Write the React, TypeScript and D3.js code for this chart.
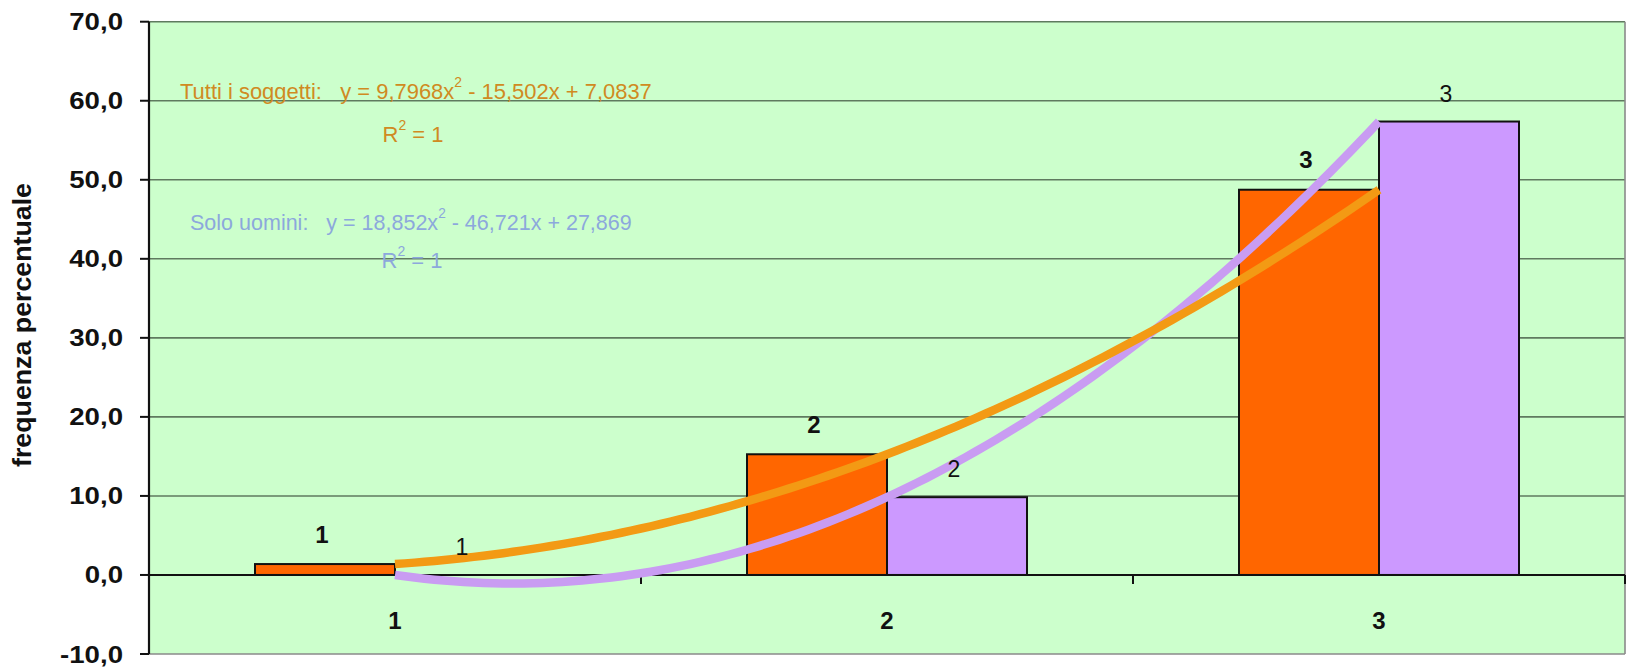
import React, { useEffect, useRef } from "react";
import * as d3 from "d3";

// categories on the x axis
const categories = ["1", "2", "3"];
// "Tutti i soggetti" (orange) and "Solo uomini" (purple) percentages
const tuttiValues = [1.38, 15.27, 48.74];
const uominiValues = [0.0, 9.84, 57.37];
const yTicks = [-10, 0, 10, 20, 30, 40, 50, 60, 70];
const yTitle = "frequenza percentuale";
const tuttiEq = { pre: "Tutti i soggetti:   y = 9,7968x", sup: "2", post: " - 15,502x + 7,0837" };
const uominiEq = { pre: "Solo uomini:   y = 18,852x", sup: "2", post: " - 46,721x + 27,869" };

const W = 1629;
const H = 671;

// quadratic through the three points (same as the Excel polynomial trendline)
const lagrange = (xs: number[], ys: number[]) => (x: number) =>
  ys.reduce((s, yi, i) => {
    let t = yi;
    xs.forEach((xj, j) => {
      if (j !== i) t *= (x - xj) / (xs[i] - xj);
    });
    return s + t;
  }, 0);

const App = () => {
  const ref = useRef<SVGSVGElement>(null);

  useEffect(() => {
    const left = 149, right = 1625, top = 21.7, bottom = 654;
    const svg = d3.select(ref.current);
    svg.selectAll("*").remove();

    const y = d3.scaleLinear().domain([-10, 70]).range([bottom, top]);
    const x = d3.scaleBand().domain(categories).range([left, right]).padding(0);
    const barW = 140;
    const x1 = d3.scaleBand().domain(["tutti", "uomini"]).range([-barW, barW]);
    const cx = (c: string) => (x(c) as number) + x.bandwidth() / 2;

    const font = "'Liberation Sans', Arial, sans-serif";

    // plot area
    svg.append("rect").attr("x", left).attr("y", top).attr("width", right - left)
      .attr("height", bottom - top).attr("fill", "#CCFFCC");

    // gridlines
    svg.append("g").selectAll("line").data(yTicks).join("line")
      .attr("x1", left).attr("x2", right)
      .attr("y1", (d) => y(d)).attr("y2", (d) => y(d))
      .attr("stroke", (d) => (d === -10 ? "#8a8a8a" : "#5f7a5f"))
      .attr("stroke-width", 1.6);
    // right border
    svg.append("line").attr("x1", right).attr("x2", right).attr("y1", top).attr("y2", bottom)
      .attr("stroke", "#8a8a8a").attr("stroke-width", 1.6);

    // y ticks + labels
    const yt = svg.append("g");
    yt.selectAll("line").data(yTicks).join("line")
      .attr("x1", left - 9).attr("x2", left)
      .attr("y1", (d) => y(d)).attr("y2", (d) => y(d))
      .attr("stroke", "#111").attr("stroke-width", 2);
    yt.selectAll("g").data(yTicks).join("g")
      .attr("transform", (d) => `translate(123,${y(d) + 8.5}) scale(1.15,1)`)
      .append("text")
      .attr("text-anchor", "end")
      .attr("font-family", font).attr("font-weight", "bold").attr("font-size", 24)
      .attr("fill", "#111")
      .text((d) => d3.format(".1f")(d).replace(".", ",").replace("\u2212", "-"));

    // y title
    svg.append("text")
      .attr("transform", `translate(31,325) rotate(-90) scale(1,1.15)`)
      .attr("text-anchor", "middle")
      .attr("font-family", font).attr("font-weight", "bold").attr("font-size", 22)
      .attr("textLength", 284).attr("lengthAdjust", "spacingAndGlyphs")
      .attr("fill", "#111")
      .text(yTitle);

    // bars
    const series = [
      { key: "tutti", values: tuttiValues, fill: "#FF6600", bold: true },
      { key: "uomini", values: uominiValues, fill: "#CC99FF", bold: false },
    ];
    series.forEach((s) => {
      const g = svg.append("g");
      g.selectAll("rect").data(categories).join("rect")
        .attr("x", (c) => cx(c) + (x1(s.key) as number))
        .attr("y", (c, i) => y(Math.max(0, s.values[i])))
        .attr("width", x1.bandwidth())
        .attr("height", (c, i) => Math.abs(y(s.values[i]) - y(0)))
        .attr("fill", s.fill).attr("stroke", "#111").attr("stroke-width", 2);
    });

    // zero axis line and category ticks
    svg.append("line").attr("x1", left).attr("x2", right).attr("y1", y(0)).attr("y2", y(0))
      .attr("stroke", "#111").attr("stroke-width", 2);
    const bounds = [...categories.map((c) => x(c) as number), right];
    svg.append("g").selectAll("line").data(bounds).join("line")
      .attr("x1", (d) => d).attr("x2", (d) => d)
      .attr("y1", y(0)).attr("y2", y(0) + 9)
      .attr("stroke", "#111").attr("stroke-width", 2);
    svg.append("line").attr("x1", left).attr("x2", left).attr("y1", top).attr("y2", bottom)
      .attr("stroke", "#111").attr("stroke-width", 2.2);

    // category labels
    svg.append("g").selectAll("text").data(categories).join("text")
      .attr("x", (c) => cx(c)).attr("y", 629)
      .attr("text-anchor", "middle")
      .attr("font-family", font).attr("font-weight", "bold").attr("font-size", 24)
      .attr("fill", "#111").text((c) => c);

    // trendlines
    const xs = categories.map((c, i) => i + 1);
    const px = d3.scaleLinear().domain([1, 3]).range([cx(categories[0]), cx(categories[2])]);
    const samples = d3.range(0, 101).map((i) => 1 + (i / 100) * 2);
    const line = d3.line<[number, number]>().x((d) => px(d[0])).y((d) => y(d[1]));
    const fitU = lagrange(xs, uominiValues);
    const fitT = lagrange(xs, tuttiValues);
    svg.append("path").attr("d", line(samples.map((v) => [v, fitU(v)])))
      .attr("fill", "none").attr("stroke", "#C99CF2").attr("stroke-width", 8.5);
    svg.append("path").attr("d", line(samples.map((v) => [v, fitT(v)])))
      .attr("fill", "none").attr("stroke", "#F39A14").attr("stroke-width", 8.5);

    // bar labels
    series.forEach((s) => {
      svg.append("g").selectAll("text").data(categories).join("text")
        .attr("x", (c) => cx(c) + (x1(s.key) as number) + x1.bandwidth() / 2 - 3)
        .attr("y", (c, i) => y(Math.max(0, s.values[i])) - (s.bold ? 21.5 : 20))
        .attr("text-anchor", "middle")
        .attr("font-family", font).attr("font-weight", s.bold ? "bold" : "normal")
        .attr("font-size", s.bold ? 24 : 23)
        .attr("fill", "#111").text((c) => c);
    });

    // trendline equations
    const eq = (e: { pre: string; sup: string; post: string }, x0: number, x1e: number, base: number, r2x: number, r2base: number, color: string) => {
      const g = svg.append("g").attr("transform", `translate(${x0},${base})`);
      const t = g.append("text").attr("font-family", font).attr("font-size", 22).attr("fill", color)
        .style("white-space", "pre");
      t.append("tspan").text(e.pre);
      t.append("tspan").attr("dy", -12).attr("font-size", 14).text(e.sup);
      t.append("tspan").attr("dy", 12).text(e.post);
      const w = (t.node() as SVGTextElement).getComputedTextLength();
      t.attr("transform", `scale(${(x1e - x0) / w},1)`);
      const r = svg.append("text").attr("x", r2x).attr("y", r2base).attr("text-anchor", "middle")
        .attr("font-family", font).attr("font-size", 22).attr("fill", color);
      r.append("tspan").text("R");
      r.append("tspan").attr("dy", -12).attr("font-size", 14).text("2");
      r.append("tspan").attr("dy", 12).text(" = 1");
    };
    eq(tuttiEq, 180, 652, 98.5, 413, 142, "#D08A22");
    eq(uominiEq, 190, 632, 230, 412, 268, "#8CA8DC");
  }, []);

  return (
    <svg
      ref={ref}
      width={W}
      height={H}
      viewBox={`0 0 ${W} ${H}`}
      style={{ position: "absolute", left: 0, top: 0, background: "#fff" }}
    />
  );
};

export default App;
